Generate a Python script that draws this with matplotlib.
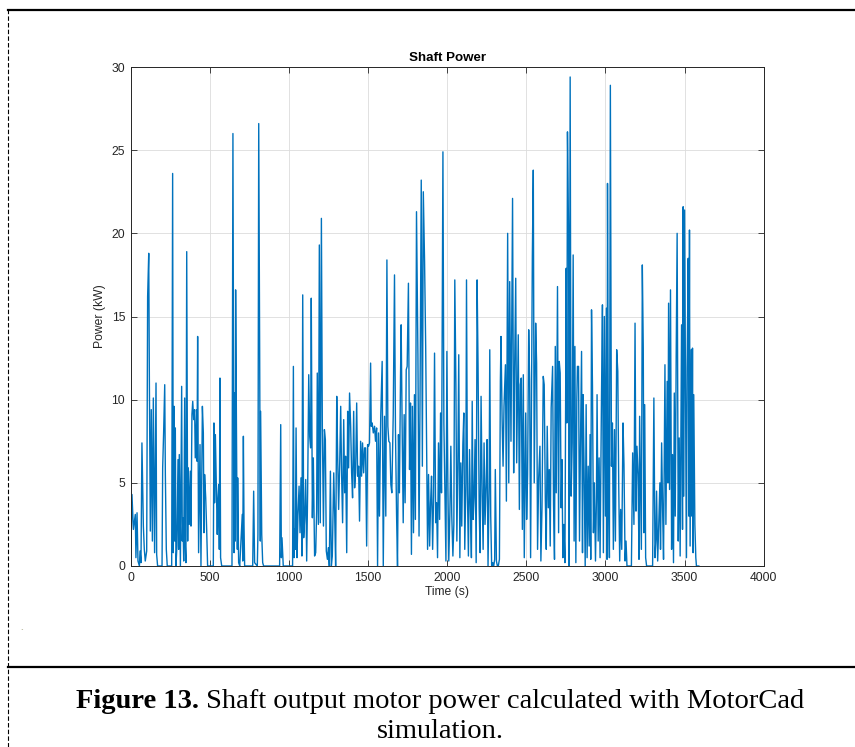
import numpy as np
import matplotlib
matplotlib.use('Agg')
import matplotlib.pyplot as plt
from matplotlib.lines import Line2D

# Shaft power trace, (time in s, power in kW)
seg_0_600 = [
    (0, 0), (8, 4.3), (17, 2.2), (29, 3.1), (33, 0.5), (40, 3.2), (46, 0.3), (55, 0), (59, 0.9), (65, 0.2),
    (71, 7.4), (80, 2.4), (86, 1.0), (92, 0.3), (101, 0.9), (107, 16.2), (114, 18.8), (118, 11.1), (124, 2.1), (130, 9.4),
    (137, 1.5), (143, 10.1), (151, 0.8), (160, 11.0), (164, 0.7), (170, 0), (198, 0), (202, 5.9), (208, 8.0), (215, 10.9),
    (219, 5.5), (225, 1.0), (231, 0), (259, 0), (265, 23.6), (269, 0.8), (274, 9.6), (278, 1.5), (282, 8.3), (286, 0),
    (292, 1.2), (299, 6.4), (303, 1.0), (307, 6.7), (314, 0), (322, 10.8), (326, 1.5), (330, 2.9), (335, 0.3), (341, 10.1),
    (345, 1.2), (349, 0.2), (354, 18.9), (360, 1.5), (364, 5.9), (370, 2.5), (377, 5.7), (381, 2.4), (387, 9.1), (392, 9.9),
    (398, 8.8), (404, 9.4), (408, 6.5), (417, 9.4), (419, 6.3), (423, 13.8), (429, 0.8), (438, 7.3), (444, 0), (453, 9.6),
    (459, 8.0), (463, 2.0), (467, 5.5), (474, 4.1), (480, 2.2), (486, 0), (522, 0), (526, 8.6), (530, 3.8), (535, 7.9),
    (541, 4.8), (547, 1.9), (551, 4.0), (556, 4.9), (560, 1.0), (564, 11.3), (568, 0.5), (575, 0),
]

seg_600_1200 = [
    (640, 0), (646, 26.0), (653, 0.8), (657, 10.4), (661, 1.5), (663, 16.6), (670, 5.7), (674, 1.0), (676, 5.3), (682, 0.2),
    (689, 0), (699, 2.0), (705, 3.1), (708, 0.3), (712, 7.8), (716, 2.5), (720, 0), (771, 0), (777, 4.5), (783, 0.2),
    (800, 0), (804, 1.9), (809, 26.6), (815, 12.7), (819, 1.5), (821, 9.3), (828, 1.9), (834, 0.2), (840, 0), (941, 0),
    (948, 8.5), (952, 0.5), (956, 1.7), (964, 0), (1023, 0), (1028, 12.0), (1032, 0.5), (1036, 2.2), (1040, 1.0), (1045, 8.3),
    (1051, 0.5), (1057, 3.1), (1064, 4.8), (1070, 2.0), (1076, 5.3), (1082, 0.6), (1087, 16.3), (1093, 1.7), (1099, 2.8), (1106, 5.2),
    (1112, 0.3), (1118, 4.4), (1125, 11.5), (1131, 7.8), (1137, 7.1), (1141, 16.1), (1148, 2.9), (1154, 6.5), (1162, 0.6), (1169, 0.8),
    (1175, 3.3), (1179, 11.6), (1186, 2.5), (1192, 19.3), (1198, 2.6),
]

seg_1200_1800 = [
    (1205, 20.9), (1211, 8.3), (1218, 2.4), (1224, 8.2), (1230, 7.6), (1236, 0.9), (1243, 0.4), (1249, 1.1), (1255, 0), (1262, 5.7),
    (1268, 0), (1274, 0.6), (1283, 5.6), (1289, 3.1), (1295, 0), (1302, 10.2), (1308, 6.5), (1314, 3.4), (1321, 6.3), (1327, 9.6),
    (1333, 5.4), (1339, 2.6), (1346, 8.8), (1352, 4.4), (1358, 6.6), (1365, 0.8), (1371, 9.3), (1377, 5.9), (1383, 10.4), (1390, 8.4),
    (1396, 5.6), (1402, 4.1), (1409, 9.3), (1415, 4.7), (1421, 5.6), (1428, 9.8), (1434, 5.4), (1440, 6.0), (1446, 2.7), (1453, 7.5),
    (1459, 5.4), (1465, 7.4), (1472, 5.6), (1478, 7.1), (1484, 7.1), (1491, 1.2), (1497, 7.3), (1503, 7.2), (1509, 7.4), (1516, 12.2),
    (1520, 8.4), (1526, 8.6), (1533, 8.0), (1541, 8.4), (1547, 7.5), (1554, 8.3), (1560, 0), (1566, 8.0), (1572, 3.0), (1580, 9.0),
    (1589, 12.3), (1596, 0), (1604, 9.0), (1612, 3.0), (1619, 18.4), (1625, 8.4), (1631, 7.5), (1638, 7.4), (1644, 4.9), (1650, 4.4),
    (1659, 9.1), (1667, 17.5), (1673, 8.2), (1680, 3.1), (1686, 0), (1692, 7.9), (1698, 4.4), (1705, 11.4), (1709, 14.5), (1715, 8.6),
    (1722, 2.6), (1728, 9.1), (1734, 3.8), (1741, 11.8), (1747, 12.0), (1755, 17.0), (1762, 5.8), (1768, 9.8), (1774, 0.7), (1780, 9.6),
    (1787, 2.0), (1793, 10.3), (1799, 2.8),
]

seg_1800_2400 = [
    (1806, 21.3), (1815, 12.7), (1822, 1.8), (1828, 9.5), (1836, 23.2), (1843, 6.0), (1849, 22.5), (1857, 18.3), (1864, 13.2), (1870, 7.0),
    (1876, 1.0), (1882, 5.5), (1889, 1.2), (1895, 3.8), (1901, 5.4), (1908, 1.0), (1914, 4.2), (1920, 12.8), (1927, 2.6), (1933, 3.8),
    (1939, 0.5), (1945, 7.4), (1952, 2.8), (1958, 9.2), (1964, 4.4), (1973, 24.9), (1979, 8.6), (1985, 4.8), (1992, 0.3), (1998, 12.9),
    (2004, 5.2), (2010, 0.3), (2017, 3.2), (2023, 7.2), (2029, 3.0), (2036, 0.6), (2042, 2.5), (2048, 17.2), (2055, 10.9), (2061, 1.5),
    (2067, 5.9), (2073, 12.7), (2080, 0.5), (2086, 6.2), (2092, 2.4), (2099, 7.3), (2105, 9.2), (2111, 1.0), (2118, 5.0), (2122, 17.2),
    (2128, 4.3), (2134, 0.6), (2141, 7.0), (2147, 3.4), (2153, 0.5), (2158, 9.9), (2164, 2.8), (2170, 4.1), (2176, 7.6), (2183, 0.2),
    (2189, 17.2), (2195, 12.0), (2202, 3.5), (2208, 0.8), (2214, 10.2), (2221, 4.3), (2227, 1.0), (2233, 7.4), (2239, 2.5), (2246, 4.9),
    (2252, 7.6), (2258, 0), (2265, 4.7), (2269, 13.0), (2275, 3.0), (2281, 0), (2288, 0.2), (2294, 0), (2300, 0.4), (2304, 5.8),
    (2311, 0.3), (2317, 0), (2323, 0), (2330, 0.4), (2336, 11.1), (2340, 13.8), (2347, 8.8), (2353, 6.0), (2359, 9.6), (2368, 12.1),
    (2374, 3.9), (2382, 20.0), (2389, 5.0), (2395, 17.1),
]

seg_2400_3000 = [
    (2403, 7.5), (2407, 13.0), (2413, 22.1), (2420, 5.6), (2426, 11.8), (2433, 17.3), (2439, 6.2), (2445, 11.0), (2449, 13.9), (2456, 3.4),
    (2462, 10.9), (2468, 11.3), (2475, 2.2), (2481, 11.5), (2487, 0.5), (2496, 9.2), (2502, 2.8), (2508, 5.5), (2515, 14.2), (2521, 11.2),
    (2527, 0.5), (2534, 11.8), (2538, 18.6), (2544, 23.8), (2550, 5.0), (2559, 14.6), (2565, 12.2), (2571, 1.0), (2578, 5.3), (2586, 7.2),
    (2592, 0.3), (2599, 3.5), (2607, 11.4), (2613, 10.9), (2620, 4.0), (2626, 1.0), (2632, 8.4), (2639, 3.5), (2645, 5.8), (2651, 1.2),
    (2657, 9.5), (2666, 12.0), (2672, 3.7), (2678, 0.4), (2683, 13.2), (2689, 4.4), (2697, 16.8), (2704, 2.0), (2708, 12.3), (2714, 11.6),
    (2720, 3.5), (2725, 6.4), (2731, 0.5), (2737, 2.5), (2744, 0.2), (2752, 17.9), (2756, 8.6), (2760, 26.1), (2767, 19.9), (2771, 0),
    (2777, 29.4), (2783, 4.2), (2790, 7.4), (2796, 18.7), (2802, 1.5), (2807, 13.2), (2813, 0.2), (2819, 10.0), (2823, 12.0), (2830, 12.0),
    (2836, 1.5), (2842, 7.2), (2849, 12.9), (2855, 0.8), (2859, 10.3), (2865, 5.8), (2872, 0), (2878, 9.7), (2884, 0.5), (2891, 6.0),
    (2897, 1.2), (2903, 7.9), (2907, 0.4), (2912, 15.4), (2918, 10.8), (2924, 2.0), (2930, 5.0), (2937, 0.3), (2943, 4.0), (2947, 10.3),
    (2954, 1.5), (2960, 6.5), (2966, 0.5), (2975, 10.2), (2981, 15.7), (2987, 0.8), (2993, 15.0), (3000, 3.0), (3006, 15.5), (3010, 0.4),
]

seg_3000_3600 = [
    (3013, 23.0), (3019, 5.0), (3025, 0.5), (3031, 28.9), (3038, 6.0), (3044, 8.6), (3050, 1.0), (3057, 8.2), (3063, 1.5), (3071, 13.0),
    (3078, 11.7), (3084, 4.8), (3090, 0.3), (3096, 3.4), (3103, 1.0), (3111, 8.6), (3117, 6.1), (3124, 0.3), (3130, 1.5), (3136, 0),
    (3164, 0), (3172, 6.8), (3180, 2.5), (3187, 14.6), (3193, 3.3), (3199, 7.2), (3206, 5.5), (3212, 0.4), (3216, 9.0), (3222, 4.7),
    (3227, 1.0), (3233, 18.1), (3239, 13.1), (3243, 2.0), (3248, 9.7), (3254, 0.5), (3260, 0), (3298, 0), (3306, 10.1), (3313, 0.5),
    (3319, 1.6), (3323, 4.5), (3330, 0.3), (3336, 2.2), (3344, 5.0), (3348, 1.0), (3355, 7.4), (3361, 3.5), (3367, 0.4), (3376, 12.1),
    (3382, 2.5), (3390, 11.1), (3395, 5.0), (3399, 15.8), (3405, 4.6), (3411, 16.6), (3418, 1.0), (3424, 6.7), (3430, 0.2), (3435, 10.4),
    (3441, 3.0), (3447, 12.6), (3453, 20.0), (3460, 1.5), (3466, 7.7), (3472, 0.6), (3481, 14.5), (3487, 2.2), (3491, 21.6), (3495, 4.2),
    (3500, 21.4), (3506, 10.3), (3512, 0.5), (3516, 11.9), (3523, 18.5), (3527, 3.0), (3531, 20.2), (3535, 1.2), (3542, 13.0), (3546, 3.0),
    (3550, 13.1), (3554, 0.8), (3558, 10.3), (3565, 2.5), (3571, 0.5), (3575, 0), (3590, 0),
]

x_ticks = [0, 500, 1000, 1500, 2000, 2500, 3000, 3500, 4000]
y_ticks = [0, 5, 10, 15, 20, 25, 30]

trace = np.array(seg_0_600 + seg_600_1200 + seg_1200_1800 + seg_1800_2400 + seg_2400_3000 + seg_3000_3600)
time_s, power_kw = trace[:, 0], trace[:, 1]

W, H = 855, 747
plt.rcParams['font.family'] = ['Liberation Sans', 'DejaVu Sans']
fig = plt.figure(figsize=(W / 100, H / 100), dpi=100)
ax = fig.add_axes([130.7 / W, 1 - 566 / H, 633 / W, 499 / H])

ax.plot(time_s, power_kw, color='#0072BD', lw=1.0)
ax.set_xlim(0, 4000)
ax.set_ylim(0, 30)
ax.set_xticks(x_ticks)
ax.set_yticks(y_ticks)
ax.grid(True, color='#dcdcdc', lw=0.6)
ax.set_axisbelow(True)
ax.tick_params(direction='in', length=4, width=0.6, labelsize=8.7, colors='#262626',
               top=True, right=True, pad=4)
for s in ax.spines.values():
    s.set_color('#262626')
    s.set_linewidth(0.7)
ax.set_title('Shaft Power', fontsize=9.6, fontweight='bold', pad=4)
ax.set_xlabel('Time (s)', fontsize=8.7, color='#262626', labelpad=2)
ax.set_ylabel('Power (kW)', fontsize=8.7, color='#262626', labelpad=4)

# page frame around the figure
fig.add_artist(Line2D([8 / W, 1], [1 - 10 / H] * 2, color='black', lw=1.6))
fig.add_artist(Line2D([8 / W, 8 / W], [0, 1 - 10 / H], color='black', lw=0.8, ls=(0, (4, 2))))
fig.add_artist(Line2D([8 / W, 1], [1 - 667 / H] * 2, color='black', lw=1.6))
fig.text(22 / W, 1 - 632 / H, '`', fontsize=6, color='#8a8a60', ha='center', va='center')

# caption: bold label followed by normal text, centred as one line
cap_y = 1 - 701 / H
serif = ['Liberation Serif', 'DejaVu Serif']
t1 = fig.text(0, cap_y, 'Figure 13.', fontsize=20.5, fontweight='bold', family=serif, va='center')
t2 = fig.text(0, cap_y, ' Shaft output motor power calculated with MotorCad', fontsize=20.5, family=serif, va='center')
fig.canvas.draw()
r = fig.canvas.get_renderer()
w1 = t1.get_window_extent(r).width
w2 = t2.get_window_extent(r).width
x0 = 440.5 - (w1 + w2) / 2
t1.set_x(x0 / W)
t2.set_x((x0 + w1) / W)
fig.text(440.5 / W, 1 - 732 / H, 'simulation.', fontsize=20.5, family=serif, ha='center', va='center')

fig.savefig('out.png', dpi=100)
